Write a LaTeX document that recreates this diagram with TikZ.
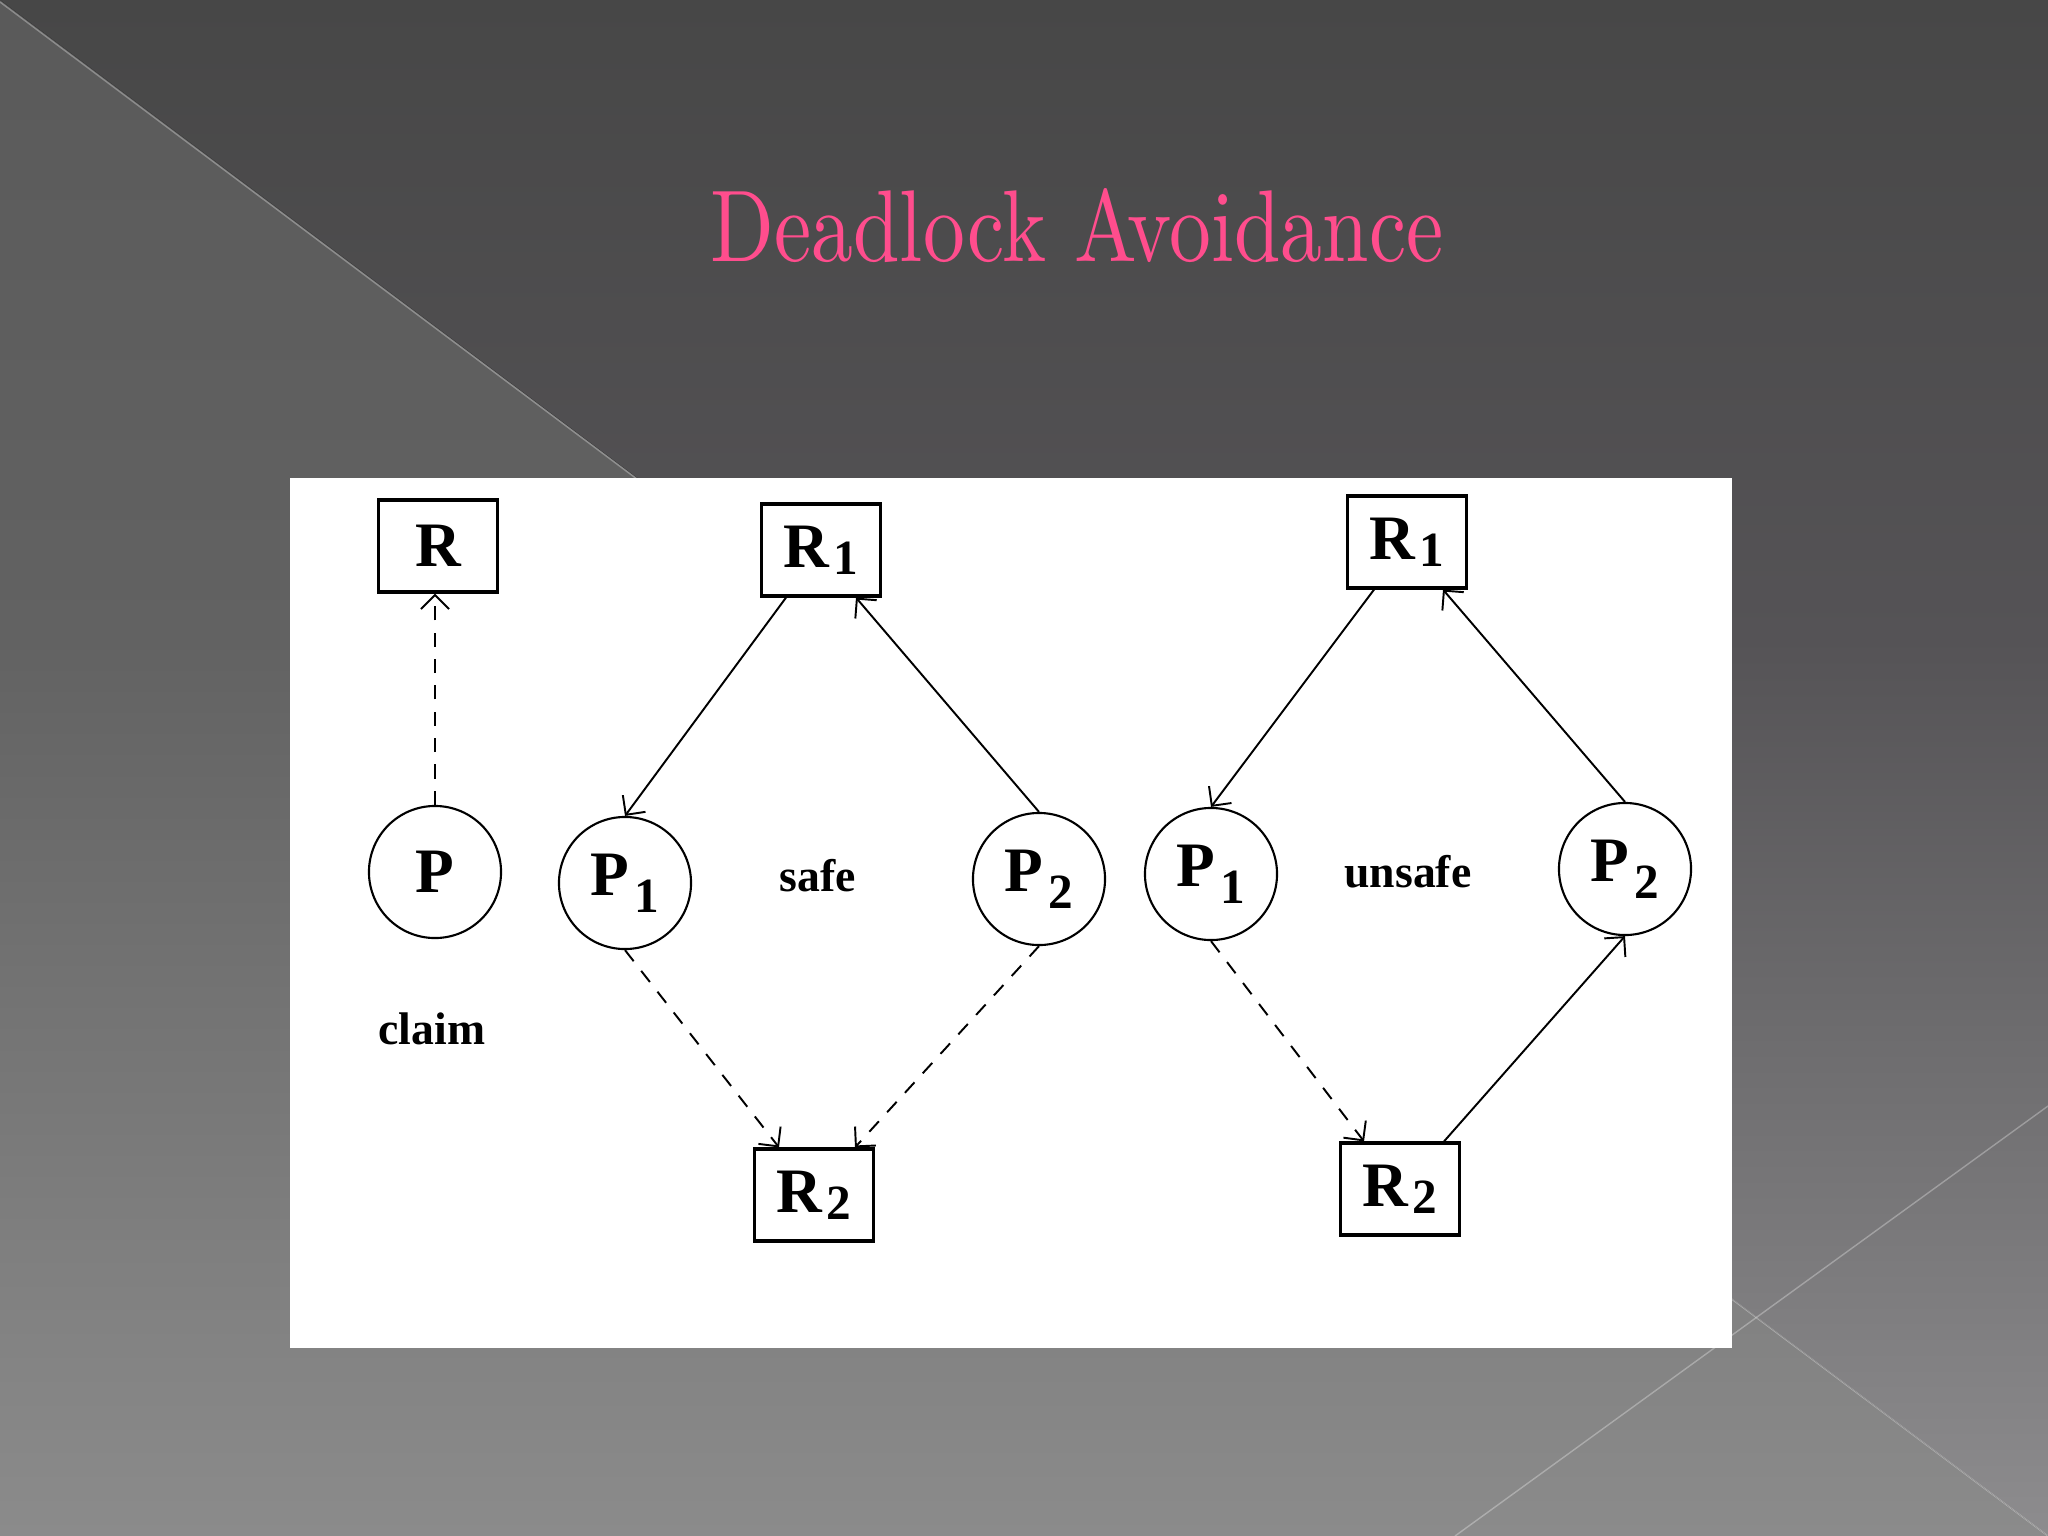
\documentclass[tikz,border=0pt]{standalone}
\usepackage{fontspec}
\setmainfont{Liberation Serif}
\newfontfamily\titlefont{lmroman10-regular.otf}[FakeStretch=0.82]
\usetikzlibrary{arrows.meta,calc}
\definecolor{bgA}{HTML}{474747}
\definecolor{bgB}{HTML}{555356}
\definecolor{bgC}{HTML}{6B6A6C}
\definecolor{bgD}{HTML}{8D8C8E}
\definecolor{lA}{HTML}{5A5A5A}
\definecolor{lB}{HTML}{626262}
\definecolor{lC}{HTML}{7F7F7F}
\definecolor{lD}{HTML}{8B8B8B}
\definecolor{titlepink}{HTML}{FF4D8D}
\pgfdeclareverticalshading{bgright}{100bp}{color(0bp)=(bgD); color(25bp)=(bgD); color(42.4bp)=(bgC); color(54.2bp)=(bgB); color(75bp)=(bgA); color(100bp)=(bgA)}
\pgfdeclareverticalshading{bgleft}{100bp}{color(0bp)=(lD); color(25bp)=(lD); color(34.3bp)=(lC); color(54.2bp)=(lB); color(75bp)=(lA); color(100bp)=(lA)}
\newcommand\nodefont{\fontsize{18}{20}\selectfont\bfseries}
\newcommand\notefont{\fontsize{13}{15}\selectfont\bfseries}
\newcommand\rsub[1]{\kern0.04cm\raisebox{-0.07cm}{\fontsize{14}{14}\selectfont #1}}
\newcommand\psub[1]{\kern0.05cm\raisebox{-0.17cm}{\fontsize{14}{14}\selectfont #1}}
\begin{document}
\begin{tikzpicture}[x=0.01cm,y=-0.01cm,
  res/.style={draw=black, line width=0.9pt, fill=white, minimum width=1.19cm, minimum height=0.92cm, inner sep=0pt, font=\nodefont},
  proc/.style={draw=black, circle, line width=0.6pt, fill=white, minimum size=1.32cm, inner sep=0pt, font=\nodefont},
  note/.style={font=\notefont, inner sep=1pt},
  reqedge/.style={line width=0.55pt, -{Straight Barb[length=4pt,width=8pt]}},
  claimedge/.style={reqedge, dash pattern=on 4pt off 3.5pt},
  bgline/.style={white, opacity=0.3, line width=0.4pt}]
\useasboundingbox (0,0) rectangle (2048,1536);
% background
\fill[shading=bgright] (0,0) rectangle (2048,1536);
\fill[shading=bgleft] (0,0) -- (2048,1536) -- (0,1536) -- cycle;
\draw[bgline] (0,2) -- (2048,1536);
\draw[bgline] (2048,1106) -- (1455,1536);
% white panel
\fill[white] (290,478) rectangle (1732,1348);
% title
\node[anchor=base, text=titlepink, font=\titlefont\fontsize{29}{32}\selectfont] (title) at (1077,261) {Deadlock Avoidance};
% nodes
\node[res] (R) at (438,546) {R};
\node[res] (R1s) at (821,550) {R\rsub{1}};
\node[res] (R1u) at (1407,542) {R\rsub{1}};
\node[res] (R2s) at (814,1195) {R\rsub{2}};
\node[res] (R2u) at (1400,1189) {R\rsub{2}};
\node[proc] (P) at (435,872) {P};
\node[proc] (P1s) at (625,883) {P\psub{1}};
\node[proc] (P2s) at (1039,879) {P\psub{2}};
\node[proc] (P1u) at (1211,874) {P\psub{1}};
\node[proc] (P2u) at (1625,869) {P\psub{2}};
\node[note] (claim) at (432,1029) {claim};
\node[note] (safe) at (818,876) {safe};
\node[note] (unsafe) at (1408,872) {unsafe};
% edges
\draw[claimedge] (P.north) -- (P.north |- R.south);
\draw[reqedge] ($(R1s.south)+(-35,0)$) -- (P1s.north);
\draw[reqedge] (P2s.north) -- ($(R1s.south)+(35,0)$);
\draw[claimedge] (P1s.south) -- ($(R2s.north)+(-35,0)$);
\draw[claimedge] (P2s.south) -- ($(R2s.north)+(41,0)$);
\draw[reqedge] ($(R1u.south)+(-33,0)$) -- (P1u.north);
\draw[reqedge] (P2u.north) -- ($(R1u.south)+(36,0)$);
\draw[claimedge] (P1u.south) -- ($(R2u.north)+(-36,0)$);
\draw[reqedge] ($(R2u.north)+(44,0)$) -- (P2u.south);
\end{tikzpicture}
\end{document}
